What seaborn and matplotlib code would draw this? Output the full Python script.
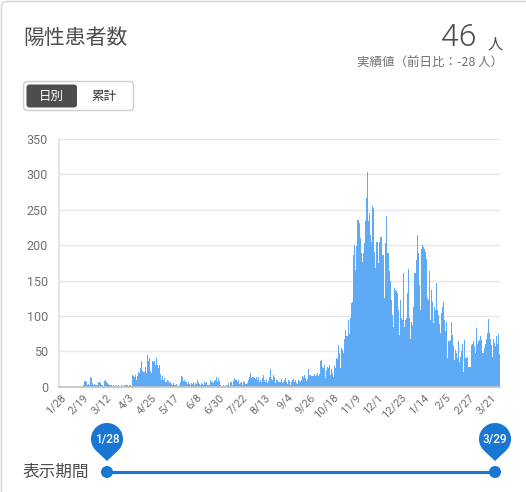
import numpy as np
import pandas as pd
import seaborn as sns
import matplotlib.pyplot as plt
from matplotlib.patches import FancyBboxPatch, Circle, Polygon

# daily positive cases, 2020-01-28 .. 2021-03-29
jan20 = [1, 0, 0, 0]
feb20 = [0] * 13 + [1, 0, 0, 0, 1, 2, 8, 8, 7, 3, 4, 3, 14, 12, 5, 3]
mar20 = [4, 3, 2, 3, 6, 6, 5, 2, 3, 1, 8, 9, 7, 5, 4, 2, 3, 1, 2, 1,
         0, 2, 1, 3, 1, 0, 3, 1, 0, 2, 3]
apr20 = [2, 3, 1, 3, 2, 1, 16, 15, 14, 17, 10, 15, 21, 20, 27, 37, 22, 21, 28, 20,
         45, 37, 40, 22, 20, 36, 35, 37, 31, 40]
may20 = [31, 26, 30, 18, 10, 15, 9, 12, 7, 6, 10, 8, 5, 7, 4, 3, 5, 2, 3, 4,
         1, 2, 6, 15, 14, 8, 9, 7, 6, 4, 7]
jun20 = [4, 3, 5, 4, 7, 3, 5, 4, 9, 6, 4, 3, 5, 4, 3, 6, 5, 7, 3, 2,
         3, 9, 6, 5, 8, 10, 14, 6, 12, 8]
jul20 = [3, 1, 0, 2, 1, 0, 2, 3, 5, 1, 7, 6, 2, 8, 12, 9, 10, 6, 9, 4,
         5, 7, 3, 8, 6, 4, 5, 10, 14, 19, 12]
aug20 = [14, 13, 12, 11, 14, 9, 13, 6, 10, 7, 12, 16, 9, 6, 11, 5, 8, 14, 25, 11,
         9, 16, 13, 5, 9, 10, 7, 6, 11, 5, 7]
sep20 = [9, 12, 7, 4, 10, 8, 3, 6, 9, 11, 7, 9, 5, 4, 9, 8, 6, 10, 15, 14,
         16, 12, 8, 11, 25, 17, 16, 15, 15, 18]
oct20 = [15, 16, 19, 15, 18, 37, 38, 28, 26, 31, 12, 24, 28, 26, 31, 17, 25, 20, 14, 29,
         26, 40, 39, 59, 47, 26, 54, 52, 48, 68, 80]
nov20 = [71, 94, 75, 97, 118, 119, 186, 200, 165, 199, 236, 236, 231, 210, 189, 176, 189, 203, 234, 267,
         304, 234, 245, 215, 205, 256, 253, 191, 168, 205]
dec20 = [205, 175, 205, 212, 186, 186, 125, 203, 241, 189, 189, 163, 150, 123, 101, 85, 139, 137, 135, 132,
         109, 73, 123, 97, 94, 161, 85, 94, 97, 132, 167]
jan21 = [97, 68, 92, 87, 113, 161, 179, 215, 189, 144, 109, 194, 200, 198, 195, 191, 180, 125, 123, 163,
         94, 137, 120, 90, 113, 109, 146, 109, 101, 88, 76]
feb21 = [104, 112, 120, 94, 78, 91, 40, 64, 66, 92, 73, 58, 38, 52, 47, 40, 64, 35, 42, 50,
         61, 21, 66, 40, 40, 42, 28, 28]
mar21 = [28, 59, 60, 64, 58, 47, 83, 61, 64, 66, 71, 66, 47, 54, 60, 68, 76, 95, 76, 68,
         59, 42, 68, 62, 57, 71, 61, 74, 46]

cases = (jan20 + feb20 + mar20 + apr20 + may20 + jun20 + jul20 + aug20 + sep20
         + oct20 + nov20 + dec20 + jan21 + feb21 + mar21)
dates = pd.date_range('2020-01-28', '2021-03-29', freq='D')
df = pd.DataFrame({'day': np.arange(len(dates)), 'cases': cases})
labels = [f'{d.month}/{d.day}' for d in dates]

sns.set_theme(style='white')
plt.rcParams['font.family'] = ['Roboto', 'Noto Sans CJK JP', 'DejaVu Sans']
JP = ['Noto Sans CJK JP', 'DejaVu Sans']

W, H = 526, 492
fig = plt.figure(figsize=(W / 100, H / 100), dpi=100)

# background layer in pixel coordinates
bg = fig.add_axes([0, 0, 1, 1])
bg.set_xlim(0, W)
bg.set_ylim(H, 0)
bg.axis('off')
bg.add_patch(FancyBboxPatch((1.5, 1.5), W + 30, H + 30,
                            boxstyle='round,pad=0,rounding_size=5',
                            ec='#d6d6d6', fc='white', lw=1))

bg.text(23, 38, '陽性患者数', fontsize=15, color='#4d4d4d', va='center', family=JP)
bg.text(477, 38, str(cases[-1]), fontsize=23, color='#4d4d4d', ha='right',
        va='center', weight=300)
bg.text(503, 44, '人', fontsize=11, color='#4d4d4d', ha='right', va='center', family=JP)
diff = cases[-1] - cases[-2]
bg.text(503, 63, f'実績値（前日比：{diff} 人）', fontsize=9, color='#707070',
        ha='right', va='center', family=JP)

# 日別 / 累計 toggle
bg.add_patch(FancyBboxPatch((23.5, 81.5), 110, 29, boxstyle='round,pad=0,rounding_size=4',
                            ec='#d0d0d0', fc='white', lw=1))
bg.add_patch(FancyBboxPatch((26.5, 84.5), 50.5, 23, boxstyle='round,pad=0,rounding_size=3',
                            ec='none', fc='#4d4d4d'))
bg.text(51.5, 96.5, '日別', fontsize=9, color='white', ha='center', va='center', family=JP)
bg.text(104, 96.5, '累計', fontsize=9, color='#333333', ha='center', va='center', family=JP)

# bar chart
ax = fig.add_axes([59 / W, 1 - 386.7 / H, (500 - 59) / W, (386.7 - 139) / H])
ax.patch.set_alpha(0)
sns.barplot(data=df, x='day', y='cases', color='#5eaaf4', width=1.0, saturation=1,
            linewidth=0, errorbar=None, ax=ax)
ax.set_xlim(-1.5, len(dates) - 0.5)
ax.set_ylim(0, 350)
ax.set_yticks(range(0, 351, 50))
ax.set_xticks(range(0, len(dates), 22))
ax.set_xticklabels(labels[::22], rotation=45, ha='right', rotation_mode='anchor')
ax.set_xlabel('')
ax.set_ylabel('')
ax.yaxis.grid(True, color='#e6e6e6', lw=1)
ax.set_axisbelow(True)
for s in ['top', 'right']:
    ax.spines[s].set_visible(False)
ax.spines['left'].set_color('#e0e0e0')
ax.spines['bottom'].set_color('#c4c4c4')
ax.tick_params(axis='y', length=6, width=1, color='#e6e6e6', labelcolor='#707070',
               labelsize=9, pad=2)
ax.tick_params(axis='x', length=0, labelcolor='#707070', labelsize=8, pad=4)

# period slider
blue = '#1976d2'
bg.text(23, 472, '表示期間', fontsize=12, color='#4d4d4d', va='center', family=JP)
bg.plot([107, 495], [472, 472], color=blue, lw=2.2)
for cx, lab in [(107, labels[0]), (495, labels[-1])]:
    bg.add_patch(Circle((cx, 472), 6, fc=blue, ec='none'))
    cy, r = 439, 16
    bg.add_patch(Circle((cx, cy), r, fc=blue, ec='none'))
    bg.add_patch(Polygon([(cx - 10.4, cy + 12.2), (cx + 10.4, cy + 12.2), (cx, cy + 22)],
                         closed=True, fc=blue, ec='none'))
    bg.text(cx, cy, lab, fontsize=8.5, color='white', ha='center', va='center',
            weight='medium')

fig.savefig('out.png', dpi=100)
